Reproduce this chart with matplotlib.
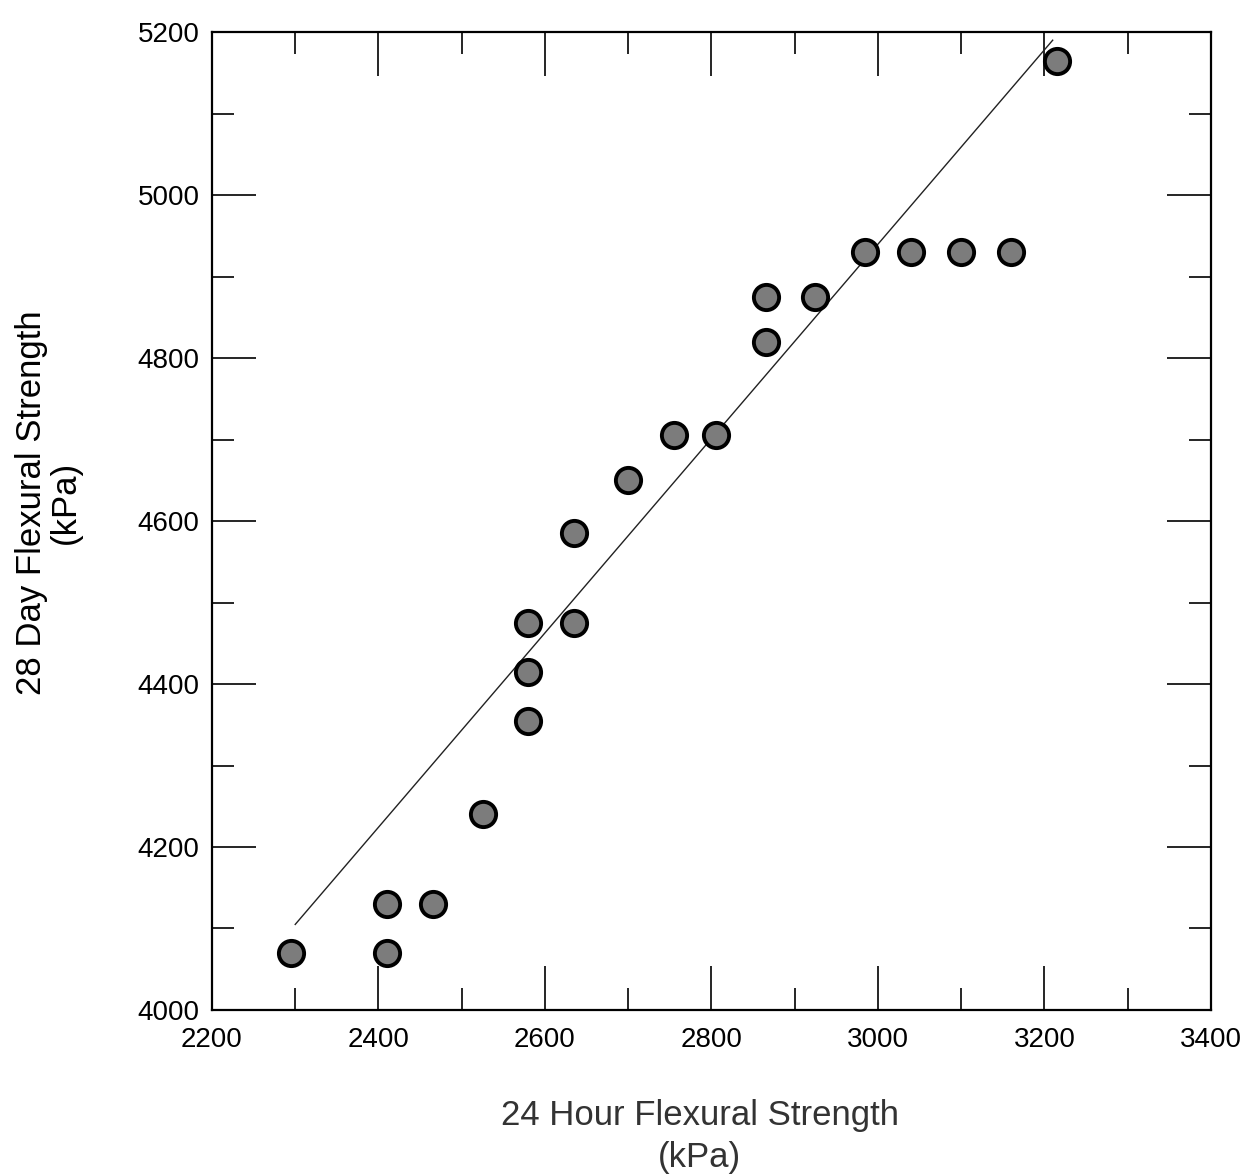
import numpy as np
import matplotlib
matplotlib.use("Agg")
import matplotlib.pyplot as plt
from matplotlib.ticker import MultipleLocator

# 24 hour vs 28 day flexural strength, kPa
strength_24h = [2295, 2410, 2410, 2465, 2525, 2580, 2580, 2580, 2635, 2635, 2700,
                2755, 2805, 2865, 2865, 2925, 2985, 3040, 3100, 3160, 3215]
strength_28d = [4070, 4130, 4070, 4130, 4240, 4355, 4415, 4475, 4475, 4585, 4650,
                4705, 4705, 4820, 4875, 4875, 4930, 4930, 4930, 4930, 5165]

# trend line end points
trend_x = [2300, 3210]
trend_y = [4105, 5190]

plt.rcParams['font.family'] = ['Liberation Sans', 'DejaVu Sans']

fig = plt.figure(figsize=(12.47, 11.74), dpi=100)
ax = fig.add_axes([0.170, 0.1397, 0.801, 0.833])

ax.plot(trend_x, trend_y, color='#222222', lw=1.0, zorder=2)
ax.scatter(strength_24h, strength_28d, s=330, facecolor='#7c7c7c',
           edgecolor='black', linewidth=2.8, zorder=3)

ax.set_xlim(2200, 3400)
ax.set_ylim(4000, 5200)
ax.xaxis.set_major_locator(MultipleLocator(200))
ax.xaxis.set_minor_locator(MultipleLocator(100))
ax.yaxis.set_major_locator(MultipleLocator(200))
ax.yaxis.set_minor_locator(MultipleLocator(100))

ax.tick_params(which='both', direction='in', top=True, right=True,
               width=1.2, colors='black', labelsize=20)
ax.tick_params(which='major', length=32)
ax.tick_params(which='minor', length=16)
ax.tick_params(axis='x', which='major', pad=12)
ax.tick_params(axis='y', which='major', pad=9)

for s in ax.spines.values():
    s.set_linewidth(1.6)

fig.text(0.039, 0.572, '28 Day Flexural Strength\n(kPa)', rotation=90,
         ha='center', va='center', multialignment='center',
         fontsize=25, linespacing=1.05)
fig.text(0.561, 0.032, '24 Hour Flexural Strength\n(kPa)',
         ha='center', va='center', multialignment='center',
         fontsize=25, linespacing=1.32, color='#333333')

fig.savefig('out.png', dpi=100)
